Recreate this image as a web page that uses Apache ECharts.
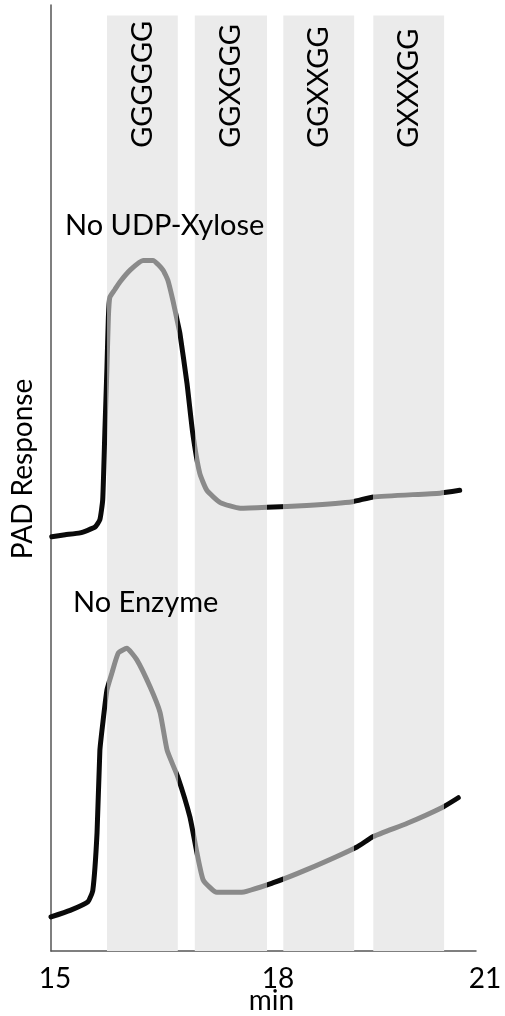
<!DOCTYPE html>
<html><head><meta charset="utf-8">
<script src="https://cdn.jsdelivr.net/npm/echarts@6/dist/echarts.min.js"></script>
<style>html,body{margin:0;padding:0;background:#fff}#c{width:505px;height:1016px}</style>
</head><body><div id="c"></div>
<script>
// Oligosaccharide standard elution windows (min)
const bandLabels = ['GGGGGG', 'GGXGGG', 'GGXXGG', 'GXXXGG'];
const bandStart = [15.79, 17.03, 18.28, 19.55];
const bandEnd   = [16.79, 18.05, 19.28, 20.55];
const xTicks = [15, 18, 21];

// Traces: [time (min), PAD response (a.u.)]
const noXylose = [
  [15.01,43.8],[15.20,44.0],[15.41,44.2],[15.62,44.8],[15.69,45.6],[15.73,47.7],
  [15.76,54.8],[15.79,61.7],[15.81,67.0],[15.83,69.1],[15.90,69.9],[15.97,70.7],
  [16.12,72.0],[16.30,73.0],[16.44,73.0],[16.58,72.0],[16.65,70.9],[16.72,68.8],
  [16.78,66.7],[16.82,65.3],[16.92,60.0],[17.00,54.8],[17.10,50.5],[17.20,48.7],
  [17.39,47.4],[17.67,46.8],[18.05,46.9],[18.61,47.1],[19.26,47.5],[19.55,48.0],
  [20.49,48.4],[20.77,48.7]
];
const noEnzyme = [
  [15.00,3.6],[15.27,4.3],[15.52,5.2],[15.59,6.4],[15.65,12.5],[15.69,21.2],
  [15.73,24.0],[15.79,27.6],[15.86,29.4],[15.95,31.5],[16.07,32.0],[16.21,30.8],
  [16.40,27.9],[16.54,25.2],[16.64,21.2],[16.79,18.4],[16.96,14.2],[17.06,10.4],
  [17.15,7.5],[17.34,6.2],[17.67,6.2],[18.13,7.2],[18.61,8.6],[19.32,11.0],
  [19.55,12.1],[20.03,13.5],[20.53,15.2],[20.75,16.2]
];

const FONT = 'Lato';
const BLACK = '#0a0a0a', GRAY = '#8a8a8a';

const pieces = [];
let prev = -Infinity;
bandStart.forEach((s, i) => {
  pieces.push({ gte: prev, lt: s, color: BLACK });
  pieces.push({ gte: s, lt: bandEnd[i], color: GRAY });
  prev = bandEnd[i];
});
pieces.push({ gte: prev, lt: Infinity, color: BLACK });

const bandData = bandStart.map((s, i) => [s, bandEnd[i], bandLabels[i]]);

const chart = echarts.init(document.getElementById('c'), null, { renderer: 'canvas' });
chart.setOption({
  animation: false,
  backgroundColor: '#fff',
  grid: { left: 51, right: 29, top: 5, bottom: 65, containLabel: false, outerBoundsMode: 'none' },
  xAxis: {
    type: 'value', min: 15, max: 21, interval: 3,
    axisLine: { lineStyle: { color: '#555', width: 1.5 } },
    axisTick: { show: false },
    splitLine: { show: false },
    axisLabel: {
      margin: 14,
      formatter: v => '{l' + v + '|' + v + '}',
      rich: {
        l15: { fontFamily: FONT, fontSize: 28, color: '#000', padding: [0, 0, 0, 8] },
        l18: { fontFamily: FONT, fontSize: 28, color: '#000', padding: [0, 0, 0, 29] },
        l21: { fontFamily: FONT, fontSize: 28, color: '#000', padding: [0, 0, 0, 18] }
      }
    },
    name: 'min', nameLocation: 'middle', nameGap: 36, nameMoveOverlap: false,
    nameTextStyle: { fontFamily: FONT, fontSize: 28, color: '#000', padding: [0, 0, 0, 16] }
  },
  yAxis: {
    type: 'value', min: 0, max: 100,
    axisLine: { show: true, lineStyle: { color: '#555', width: 1.5 } },
    axisTick: { show: false }, axisLabel: { show: false }, splitLine: { show: false },
    name: 'PAD Response', nameLocation: 'middle', nameGap: 14, nameMoveOverlap: false,
    nameTextStyle: { fontFamily: FONT, fontSize: 28, color: '#000', padding: [0, 0, 0, 18] }
  },
  visualMap: { type: 'piecewise', show: false, dimension: 0, seriesIndex: [1, 2], pieces: pieces },
  series: [
    {
      type: 'custom', z: 1, silent: true,
      data: bandData,
      encode: { x: [0, 1] },
      renderItem: (params, api) => {
        const p0 = api.coord([api.value(0), 98.9]);
        const p1 = api.coord([api.value(1), 0]);
        const lab = api.coord([(api.value(0) + api.value(1)) / 2, 84.9]);
        return {
          type: 'group',
          children: [
            { type: 'rect', shape: { x: p0[0], y: p0[1], width: p1[0] - p0[0], height: p1[1] - p0[1] },
              style: { fill: '#ebebeb' } },
            { type: 'text', x: lab[0], y: lab[1], rotation: Math.PI / 2,
              style: { text: bandLabels[params.dataIndex], fontFamily: FONT, fontSize: 29, fill: '#000',
                       textAlign: 'left', textVerticalAlign: 'middle' } }
          ]
        };
      }
    },
    { type: 'line', name: 'No UDP-Xylose', data: noXylose, showSymbol: false, z: 3,
      smooth: 0.15, lineStyle: { width: 5, cap: 'round', join: 'round' } },
    { type: 'line', name: 'No Enzyme', data: noEnzyme, showSymbol: false, z: 3,
      smooth: 0.15, lineStyle: { width: 5, cap: 'round', join: 'round' } }
  ],
  graphic: [
    { type: 'text', z: 100, left: 65, top: 211, style: { text: 'No UDP-Xylose', fontFamily: FONT, fontSize: 29, fill: '#000' } },
    { type: 'text', z: 100, left: 73, top: 588, style: { text: 'No Enzyme', fontFamily: FONT, fontSize: 29, fill: '#000' } }
  ]
});
</script></body></html>
